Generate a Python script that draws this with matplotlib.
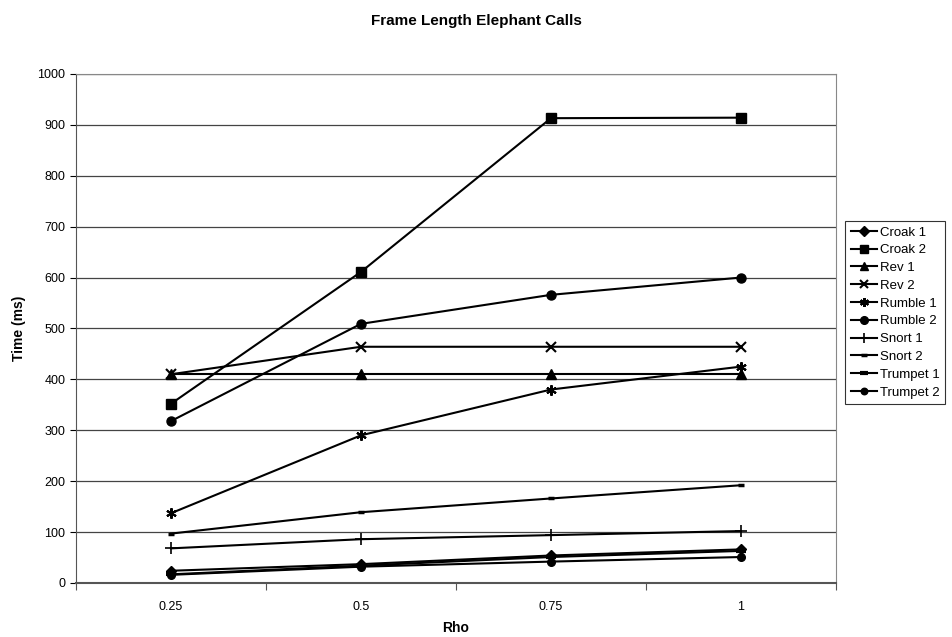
import numpy as np
import matplotlib
matplotlib.use('Agg')
from matplotlib import pyplot as plt

plt.rcParams['font.family'] = ['Liberation Sans', 'DejaVu Sans']

rho = ['0.25', '0.5', '0.75', '1']
labels = ['Croak 1', 'Croak 2', 'Rev 1', 'Rev 2', 'Rumble 1', 'Rumble 2',
          'Snort 1', 'Snort 2', 'Trumpet 1', 'Trumpet 2']
croak1   = [24, 37, 54, 66]
croak2   = [352, 611, 913, 914]
rev1     = [411, 411, 411, 411]
rev2     = [410, 464, 464, 464]
rumble1  = [137, 290, 380, 425]
rumble2  = [318, 509, 566, 600]
snort1   = [68, 86, 94, 102]
snort2   = [97, 139, 166, 192]
trumpet1 = [17, 34, 51, 63]
trumpet2 = [16, 32, 42, 51]
series = [croak1, croak2, rev1, rev2, rumble1, rumble2, snort1, snort2, trumpet1, trumpet2]

markers = ['D', 's', '^', 'x', (6, 2, 0), 'o', '+', '_', '_', 'o']
msizes  = [5.5, 6.5, 6.5, 6.5, 7.5, 6.5, 8.5, 5, 7, 5.5]
mews    = [1, 1, 1, 1.5, 1.5, 1, 1.2, 2.5, 3, 1]

fig = plt.figure(figsize=(9.52, 6.37), dpi=100, facecolor='w')
ax = fig.add_axes([0.0798, 0.0848, 0.7983, 0.7992])

x = np.arange(len(rho))
for s, lab, m, ms, mew in zip(series, labels, markers, msizes, mews):
    ax.plot(x, s, color='black', lw=1.5, marker=m, markersize=ms,
            markeredgewidth=mew, label=lab, clip_on=False, zorder=3)

ax.set_xlim(-0.5, 3.5)
ax.set_ylim(0, 1000)
ax.set_yticks(np.arange(0, 1001, 100))
ax.yaxis.grid(True, color='#444444', lw=0.9)
ax.set_axisbelow(True)

ax.set_xticks(np.arange(-0.5, 3.6, 1))
ax.set_xticklabels([])
ax.set_xticks(x, minor=True)
ax.set_xticklabels(rho, minor=True)
ax.tick_params(axis='x', which='minor', length=0, pad=13, labelsize=9)
ax.tick_params(axis='x', which='major', length=5, direction='out', color='#555555')
ax.tick_params(axis='y', length=4, direction='out', labelsize=9)

for side in ['top', 'right']:
    ax.spines[side].set_color('#888888')
ax.spines['bottom'].set_color('#555555')
ax.spines['bottom'].set_linewidth(1.5)
ax.spines['left'].set_color('#555555')

ax.set_xlabel('Rho', fontsize=10, fontweight='bold', labelpad=6)
ax.set_ylabel('Time (ms)', fontsize=10, fontweight='bold', labelpad=8)
fig.suptitle('Frame Length Elephant Calls', fontsize=11, fontweight='bold', y=0.978)

leg = fig.legend(loc='upper left', bbox_to_anchor=(0.888, 0.653), fontsize=9.5,
                 frameon=True, fancybox=False, edgecolor='black', handlelength=2.0,
                 handletextpad=0.2, labelspacing=0.42, borderpad=0.4, borderaxespad=0,
                 markerscale=0.85)
leg.get_frame().set_linewidth(0.8)

plt.savefig('out.png', dpi=100)
